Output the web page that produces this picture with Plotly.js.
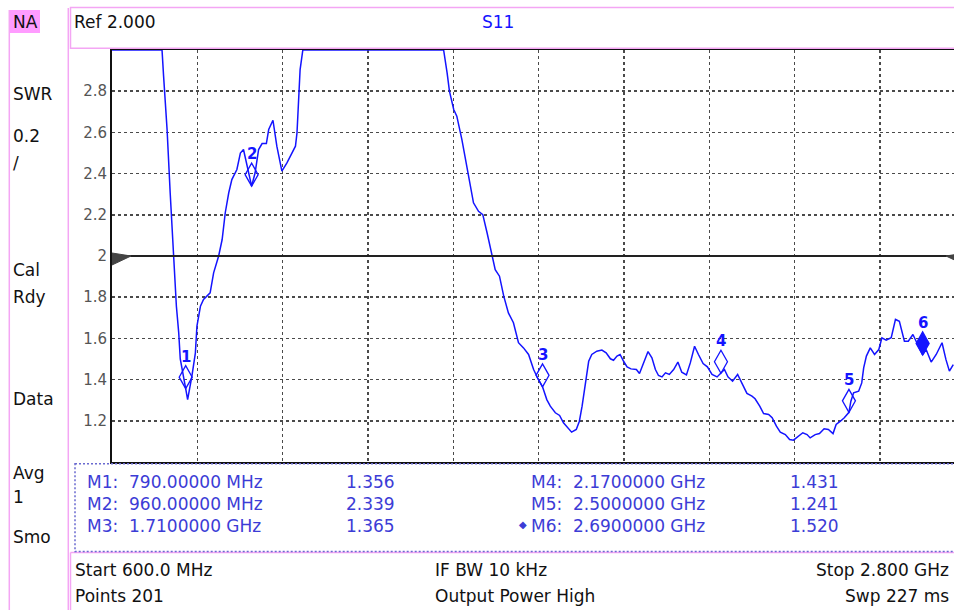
<!DOCTYPE html>
<html>
<head>
<meta charset="utf-8">
<script src="https://cdn.plot.ly/plotly-3.0.1.min.js"></script>
<style>html,body{margin:0;padding:0;background:#fff;}#chart{width:954px;height:610px;}</style>
</head>
<body>
<div id="chart"></div>
<script>
// ---- Data ----
const freqMHz = [600,650,700,729,733,742,750,755,759,766,772,776,790,795,806,815,819,828,836,853,862,875,884,892,901,909,922,931,939,948,960,969,978,987,998,1004,1015,1025,1038,1051,1073,1077,1081,1085,1092,1200,1350,1455,1464,1470,1481,1489,1502,1513,1524,1532,1545,1556,1567,1580,1588,1599,1610,1622,1635,1648,1661,1674,1687,1697,1710,1721,1730,1743,1754,1764,1777,1785,1797,1805,1812,1818,1823,1829,1837,1850,1863,1874,1885,1893,1902,1910,1919,1928,1938,1952,1960,1971,1982,1992,2001,2009,2018,2027,2037,2048,2059,2069,2081,2091,2102,2112,2124,2135,2147,2160,2170,2179,2188,2200,2213,2224,2237,2250,2258,2270,2280,2293,2302,2313,2323,2336,2347,2357,2370,2381,2392,2400,2413,2424,2436,2447,2459,2467,2478,2488,2500,2505,2512,2525,2533,2538,2545,2555,2566,2577,2585,2596,2609,2620,2630,2643,2653,2665,2675,2690,2699,2712,2725,2740,2750,2759,2769];
const swr = [3.0,3.0,3.0,3.0,2.873,2.614,2.307,2.145,2.017,1.756,1.628,1.50,1.356,1.303,1.417,1.53,1.66,1.756,1.789,1.821,1.918,2.0,2.08,2.21,2.307,2.371,2.42,2.50,2.517,2.436,2.339,2.404,2.517,2.546,2.546,2.614,2.659,2.533,2.412,2.452,2.533,2.598,2.776,2.905,3.0,3.0,3.0,3.0,2.889,2.80,2.711,2.679,2.566,2.452,2.355,2.258,2.217,2.201,2.113,1.999,1.934,1.902,1.805,1.724,1.676,1.579,1.554,1.522,1.449,1.409,1.365,1.303,1.271,1.239,1.226,1.19,1.161,1.145,1.158,1.198,1.271,1.352,1.417,1.489,1.522,1.538,1.543,1.530,1.501,1.494,1.514,1.522,1.489,1.462,1.452,1.449,1.430,1.481,1.536,1.506,1.449,1.42,1.413,1.433,1.425,1.449,1.485,1.436,1.423,1.481,1.562,1.522,1.478,1.462,1.425,1.413,1.431,1.449,1.413,1.392,1.425,1.384,1.333,1.320,1.307,1.271,1.235,1.231,1.215,1.174,1.145,1.133,1.109,1.106,1.125,1.142,1.133,1.117,1.133,1.138,1.161,1.158,1.138,1.182,1.198,1.215,1.241,1.295,1.336,1.344,1.384,1.457,1.514,1.554,1.522,1.546,1.603,1.591,1.603,1.692,1.683,1.586,1.586,1.619,1.579,1.520,1.546,1.485,1.522,1.579,1.498,1.441,1.473];

const markerNames = ["1","2","3","4","5","6"];
const markerFreqMHz = [790, 960, 1710, 2170, 2500, 2690];
const markerSWR = [1.356, 2.339, 1.365, 1.431, 1.241, 1.520];
const markerFreqText = ["790.00000 MHz","960.00000 MHz","1.7100000 GHz","2.1700000 GHz","2.5000000 GHz","2.6900000 GHz"];
const markerValText = ["1.356","2.339","1.365","1.431","1.241","1.520"];
const activeMarker = 5;

const yTickVals = [1.2,1.4,1.6,1.8,2.0,2.2,2.4,2.6,2.8];
const yTickText = ["1.2","1.4","1.6","1.8","2","2.2","2.4","2.6","2.8"];

const refValue = 2.0;
const startMHz = 600, stopMHz = 2800, divMHz = 220;

const sideLabels = [["NA",22],["SWR",94],["0.2",136],["/",163],["Cal",270],["Rdy",297],["Data",399],["Avg",473],["1",497],["Smo",537]];
const footerRows = [
  ["Start 600.0 MHz","IF BW 10 kHz","Stop 2.800 GHz"],
  ["Points 201","Output Power High","Swp 227 ms"]
];

// ---- Layout helpers ----
const W = 954, H = 610, L = 112, R = 954, T = 50, B = 462;
const px = x => (x - L) / (R - L);
const py = y => (B - y) / (B - T);
const FONT = "DejaVu Sans";
const PINK = "#f4a6f4";
const BLUE = "#1414ff";
const TBLUE = "#3c3cd6";

const shapes = [];
const annotations = [];

// pink frames
shapes.push({type:"rect", xref:"paper", yref:"paper", x0:px(10), x1:px(40), y0:py(10), y1:py(33), fillcolor:"#ff9cff", line:{width:0}, layer:"below"});
shapes.push({type:"line", xref:"paper", yref:"paper", x0:px(9.3), x1:px(9.3), y0:py(10), y1:py(612), line:{color:PINK, width:1.5}});
shapes.push({type:"line", xref:"paper", yref:"paper", x0:px(68.3), x1:px(68.3), y0:py(8), y1:py(612), line:{color:PINK, width:1.5}});
shapes.push({type:"rect", xref:"paper", yref:"paper", x0:px(70.5), x1:px(960), y0:py(7.5), y1:py(48.3), line:{color:PINK, width:1.5}});
shapes.push({type:"line", xref:"paper", yref:"paper", x0:px(70.5), x1:px(960), y0:py(552.5), y1:py(552.5), line:{color:PINK, width:1.5}});
shapes.push({type:"line", xref:"paper", yref:"paper", x0:px(70.5), x1:px(70.5), y0:py(552.5), y1:py(612), line:{color:PINK, width:1.5}});
// marker table dotted box
shapes.push({type:"rect", xref:"paper", yref:"paper", x0:px(75), x1:px(960), y0:py(463.8), y1:py(551.5), line:{color:"#6a6ad0", width:1.5, dash:"2px,2px"}});

// reference line and arrows
shapes.push({type:"line", xref:"paper", yref:"y", x0:0, x1:1, y0:refValue, y1:refValue, line:{color:"#222", width:2}});
shapes.push({type:"path", xref:"x", yref:"y", xsizemode:"pixel", ysizemode:"pixel", xanchor:startMHz, yanchor:refValue,
  path:"M0,3 L19,0 L0,-9 Z", fillcolor:"#444", line:{color:"#444", width:1}});
shapes.push({type:"path", xref:"paper", yref:"y", xsizemode:"pixel", ysizemode:"pixel", xanchor:px(965), yanchor:refValue,
  path:"M0,3 L-19,0 L0,-9 Z", fillcolor:"#444", line:{color:"#444", width:1}});

// marker diamonds and labels
markerFreqMHz.forEach((f, i) => {
  shapes.push({type:"path", xref:"x", yref:"y", xsizemode:"pixel", ysizemode:"pixel", xanchor:f, yanchor:markerSWR[i],
    path:"M0,0 L6.5,11.5 L0,23 L-6.5,11.5 Z",
    fillcolor: i === activeMarker ? BLUE : "rgba(0,0,0,0)", line:{color:BLUE, width:1.3}});
  annotations.push({x:f, y:markerSWR[i], xref:"x", yref:"y", yshift:32, text:"<b>"+markerNames[i]+"</b>",
    showarrow:false, font:{family:FONT, size:15, color:BLUE}, xanchor:"center", yanchor:"middle"});
});

// text helper
function txt(t, x, y, opts) {
  opts = opts || {};
  annotations.push({xref:"paper", yref:"paper", x:px(x), y:py(y), text:t, showarrow:false,
    xanchor:opts.anchor || "left", yanchor:"middle",
    font:{family:FONT, size:opts.size || 17, color:opts.color || "#111"}});
}

sideLabels.forEach(s => txt(s[0], 11, s[1]));
txt("Ref 2.000", 72, 22);
txt("S11", 497.5, 22, {anchor:"center", color:BLUE});

// marker table
const rowY = [481.5, 503.5, 525.5];
for (let i = 0; i < 6; i++) {
  const col = Math.floor(i / 3), r = i % 3;
  const xName = col === 0 ? 85 : 529;
  const xVal = col === 0 ? 344 : 788;
  txt("M" + markerNames[i] + ":  " + markerFreqText[i], xName, rowY[r], {color:TBLUE});
  txt(markerValText[i], xVal, rowY[r], {color:TBLUE});
  if (i === activeMarker) txt("◆", 529, rowY[r] - 1, {anchor:"right", size:10, color:TBLUE});
}

// footer
const footY = [570, 596];
footerRows.forEach((row, r) => {
  txt(row[0], 73, footY[r]);
  txt(row[1], 433, footY[r]);
  txt(row[2], 951, footY[r], {anchor:"right"});
});

const trace = {
  x: freqMHz, y: swr, type:"scatter", mode:"lines",
  line:{color:BLUE, width:1.5}, hoverinfo:"skip"
};

const layout = {
  width:W, height:H, autosize:false,
  margin:{l:L, r:W-R, t:T, b:H-B, pad:0},
  paper_bgcolor:"#fff", plot_bgcolor:"#fff",
  showlegend:false,
  font:{family:FONT},
  xaxis:{
    range:[startMHz, startMHz + (R - L) * (divMHz / 85.33)],
    tick0:startMHz, dtick:divMHz, tickmode:"linear",
    showticklabels:false, ticks:"",
    showgrid:true, gridcolor:"#4a4a4a", gridwidth:1.5, griddash:"3px,3px",
    zeroline:false, showline:true, linecolor:"#111", linewidth:2, mirror:true,
    layer:"below traces", fixedrange:true
  },
  yaxis:{
    range:[1, 3], tickmode:"array", tickvals:yTickVals, ticktext:yTickText,
    tickfont:{family:FONT, size:15, color:"#555"}, ticks:"", ticklabelstandoff:0,
    showgrid:true, gridcolor:"#4a4a4a", gridwidth:1.5, griddash:"3px,3px",
    zeroline:false, showline:true, linecolor:"#111", linewidth:2,
    layer:"below traces", fixedrange:true
  },
  shapes: shapes,
  annotations: annotations
};

Plotly.newPlot("chart", [trace], layout, {displayModeBar:false, staticPlot:true});
</script>
</body>
</html>
